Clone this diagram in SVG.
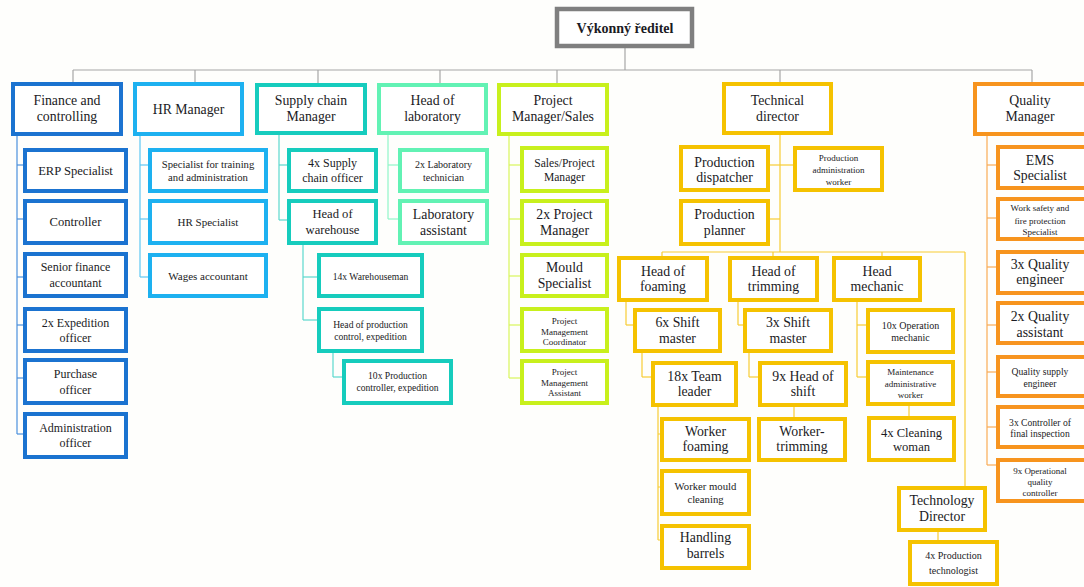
<svg xmlns="http://www.w3.org/2000/svg" width="1084" height="587" viewBox="0 0 1084 587">
<style>
.n rect{fill:#fff;stroke-width:4}
.t{font-family:"Liberation Serif","Times New Roman",serif;fill:#1b1b24;text-anchor:middle}
.top rect{stroke:#7f7f7f;stroke-width:4.5}
.fin rect{stroke:#1b73d0}
.hr rect{stroke:#1db1f0}
.sc rect{stroke:#16ccbd}
.lab rect{stroke:#62f2b4}
.pm rect{stroke:#c8f01c}
.td rect{stroke:#f5c200}
.q rect{stroke:#f7941e}
#connectors line{stroke-width:1.2;fill:none}
.cg{stroke:#a6a6a6;stroke-width:1.6}
.cfin{stroke:#4a8fdc}
.chr{stroke:#5cc6f4}
.csc{stroke:#5ad8cd}
.clab{stroke:#8ff5c8}
.cpm{stroke:#d8f55a}
.ctd{stroke:#f7cc33}
.cq{stroke:#f9ab55}
.f14{font-size:13.8px}
.f12{font-size:12.6px}
.f115{font-size:12px}
.f11{font-size:11.6px}
.f105{font-size:11px}
.f10{font-size:10.7px}
.f95{font-size:10px}
.f9{font-size:9.6px}
.f85{font-size:9px}
</style>
<rect x="0" y="0" width="1084" height="587" fill="#fefefc"/>
<g id="connectors">
<line class="cg" x1="625" y1="48" x2="625" y2="70"/>
<line class="cg" x1="73" y1="70" x2="1032" y2="70"/>
<line class="cg" x1="73" y1="70" x2="73" y2="82"/>
<line class="cg" x1="195" y1="70" x2="195" y2="82"/>
<line class="cg" x1="318" y1="70" x2="318" y2="83"/>
<line class="cg" x1="440" y1="70" x2="440" y2="83"/>
<line class="cg" x1="557" y1="70" x2="557" y2="83"/>
<line class="cg" x1="780" y1="70" x2="780" y2="82"/>
<line class="cg" x1="1032" y1="70" x2="1032" y2="82"/>
<line class="cfin" x1="17" y1="136" x2="17" y2="434"/>
<line class="cfin" x1="17" y1="165" x2="23" y2="165"/>
<line class="cfin" x1="17" y1="219" x2="23" y2="219"/>
<line class="cfin" x1="17" y1="277" x2="23" y2="277"/>
<line class="cfin" x1="17" y1="325" x2="23" y2="325"/>
<line class="cfin" x1="17" y1="378" x2="23" y2="378"/>
<line class="cfin" x1="17" y1="434" x2="23" y2="434"/>
<line class="chr" x1="140" y1="136" x2="140" y2="277"/>
<line class="chr" x1="140" y1="165" x2="148" y2="165"/>
<line class="chr" x1="140" y1="219" x2="148" y2="219"/>
<line class="chr" x1="140" y1="277" x2="148" y2="277"/>
<line class="csc" x1="279" y1="135" x2="279" y2="220"/>
<line class="csc" x1="279" y1="165" x2="287" y2="165"/>
<line class="csc" x1="279" y1="220" x2="287" y2="220"/>
<line class="csc" x1="303" y1="245" x2="303" y2="320"/>
<line class="csc" x1="303" y1="277" x2="317" y2="277"/>
<line class="csc" x1="303" y1="320" x2="317" y2="320"/>
<line class="csc" x1="333" y1="353" x2="333" y2="377"/>
<line class="csc" x1="333" y1="377" x2="342" y2="377"/>
<line class="clab" x1="388" y1="135" x2="388" y2="219"/>
<line class="clab" x1="388" y1="165" x2="398" y2="165"/>
<line class="clab" x1="388" y1="219" x2="398" y2="219"/>
<line class="cpm" x1="509" y1="136" x2="509" y2="378"/>
<line class="cpm" x1="509" y1="165" x2="520" y2="165"/>
<line class="cpm" x1="509" y1="219" x2="520" y2="219"/>
<line class="cpm" x1="509" y1="276" x2="520" y2="276"/>
<line class="cpm" x1="509" y1="325" x2="520" y2="325"/>
<line class="cpm" x1="509" y1="378" x2="520" y2="378"/>
<line class="ctd" x1="780" y1="135" x2="780" y2="252"/>
<line class="ctd" x1="770" y1="165" x2="793" y2="165"/>
<line class="ctd" x1="770" y1="219" x2="780" y2="219"/>
<line class="ctd" x1="662" y1="252" x2="965" y2="252"/>
<line class="ctd" x1="662" y1="252" x2="662" y2="256"/>
<line class="ctd" x1="773" y1="252" x2="773" y2="256"/>
<line class="ctd" x1="882" y1="252" x2="882" y2="256"/>
<line class="ctd" x1="965" y1="252" x2="965" y2="486"/>
<line class="ctd" x1="626" y1="302" x2="626" y2="325"/>
<line class="ctd" x1="626" y1="325" x2="633" y2="325"/>
<line class="ctd" x1="642" y1="353" x2="642" y2="377"/>
<line class="ctd" x1="642" y1="377" x2="651" y2="377"/>
<line class="ctd" x1="658" y1="407" x2="658" y2="540"/>
<line class="ctd" x1="658" y1="434" x2="660" y2="434"/>
<line class="ctd" x1="658" y1="487" x2="660" y2="487"/>
<line class="ctd" x1="658" y1="540" x2="660" y2="540"/>
<line class="ctd" x1="738" y1="302" x2="738" y2="325"/>
<line class="ctd" x1="738" y1="325" x2="743" y2="325"/>
<line class="ctd" x1="749" y1="353" x2="749" y2="377"/>
<line class="ctd" x1="749" y1="377" x2="758" y2="377"/>
<line class="ctd" x1="794" y1="407" x2="794" y2="417"/>
<line class="ctd" x1="857" y1="302" x2="857" y2="377"/>
<line class="ctd" x1="857" y1="325" x2="866" y2="325"/>
<line class="ctd" x1="857" y1="377" x2="866" y2="377"/>
<line class="ctd" x1="909" y1="406" x2="909" y2="416"/>
<line class="ctd" x1="938" y1="532" x2="938" y2="540"/>
<line class="cq" x1="987" y1="136" x2="987" y2="465"/>
<line class="cq" x1="987" y1="165" x2="996" y2="165"/>
<line class="cq" x1="987" y1="218" x2="996" y2="218"/>
<line class="cq" x1="987" y1="267" x2="996" y2="267"/>
<line class="cq" x1="987" y1="325" x2="996" y2="325"/>
<line class="cq" x1="987" y1="372" x2="996" y2="372"/>
<line class="cq" x1="987" y1="427" x2="996" y2="427"/>
<line class="cq" x1="987" y1="465" x2="996" y2="465"/>
</g>

<g id="ceo" class="n top"><rect x="557" y="9" width="135" height="37"/><text class="t" x="625" y="33" font-size="14" font-weight="bold">Výkonný ředitel</text></g>

<g id="finance" class="n fin"><rect x="13" y="84" width="108" height="50"/><text class="t f14"><tspan x="67" y="105">Finance and</tspan><tspan x="67" y="121">controlling</tspan></text></g>
<g id="erp" class="n fin"><rect x="25" y="150" width="101" height="41"/><text class="t f12" x="75.5" y="174.5">ERP Specialist</text></g>
<g id="controller" class="n fin"><rect x="25" y="201" width="101" height="42"/><text class="t f12" x="75.5" y="226">Controller</text></g>
<g id="senior" class="n fin"><rect x="25" y="254" width="101" height="42"/><text class="t f115"><tspan x="75.5" y="271">Senior finance</tspan><tspan x="75.5" y="287">accountant</tspan></text></g>
<g id="expedition" class="n fin"><rect x="25" y="309" width="101" height="42"/><text class="t f115"><tspan x="75.5" y="327">2x Expedition</tspan><tspan x="75.5" y="342">officer</tspan></text></g>
<g id="purchase" class="n fin"><rect x="25" y="360" width="101" height="43"/><text class="t f115"><tspan x="75.5" y="378">Purchase</tspan><tspan x="75.5" y="394">officer</tspan></text></g>
<g id="admin" class="n fin"><rect x="25" y="414" width="101" height="43"/><text class="t f115"><tspan x="75.5" y="432">Administration</tspan><tspan x="75.5" y="447">officer</tspan></text></g>

<g id="hrm" class="n hr"><rect x="135" y="84" width="107" height="50"/><text class="t f14" x="188.5" y="113.5">HR Manager</text></g>
<g id="hrtrain" class="n hr"><rect x="150" y="150" width="116" height="41"/><text class="t f10"><tspan x="208" y="168">Specialist for training</tspan><tspan x="208" y="181">and administration</tspan></text></g>
<g id="hrspec" class="n hr"><rect x="150" y="201" width="116" height="42"/><text class="t f105" x="208" y="226">HR Specialist</text></g>
<g id="wages" class="n hr"><rect x="150" y="255" width="116" height="41"/><text class="t f105" x="208" y="280">Wages accountant</text></g>

<g id="scm" class="n sc"><rect x="257" y="85" width="108" height="48"/><text class="t f14"><tspan x="311" y="105">Supply chain</tspan><tspan x="311" y="121">Manager</tspan></text></g>
<g id="scofficer" class="n sc"><rect x="289" y="150" width="87" height="41"/><text class="t f115"><tspan x="332.5" y="167">4x Supply</tspan><tspan x="332.5" y="182">chain officer</tspan></text></g>
<g id="warehouse" class="n sc"><rect x="289" y="201" width="87" height="42"/><text class="t f12"><tspan x="332.5" y="218">Head of</tspan><tspan x="332.5" y="234">warehouse</tspan></text></g>
<g id="warehouseman" class="n sc"><rect x="319" y="255" width="103" height="41"/><text class="t f9" x="370.5" y="280">14x Warehouseman</text></g>
<g id="prodcontrol" class="n sc"><rect x="319" y="309" width="103" height="42"/><text class="t f9"><tspan x="370.5" y="328">Head of production</tspan><tspan x="370.5" y="339.5">control, expedition</tspan></text></g>
<g id="prodcontroller" class="n sc"><rect x="344" y="361" width="107" height="42"/><text class="t f9"><tspan x="397.5" y="379">10x Production</tspan><tspan x="397.5" y="391">controller, expedition</tspan></text></g>

<g id="lab" class="n lab"><rect x="379" y="85" width="107" height="48"/><text class="t f14"><tspan x="432.5" y="105">Head of</tspan><tspan x="432.5" y="121">laboratory</tspan></text></g>
<g id="labtech" class="n lab"><rect x="400" y="150" width="87" height="41"/><text class="t f95"><tspan x="443.5" y="167.5">2x Laboratory</tspan><tspan x="443.5" y="181">technician</tspan></text></g>
<g id="labassist" class="n lab"><rect x="400" y="201" width="87" height="42"/><text class="t f14"><tspan x="443.5" y="219">Laboratory</tspan><tspan x="443.5" y="235">assistant</tspan></text></g>

<g id="pmsales" class="n pm"><rect x="499" y="85" width="108" height="49"/><text class="t f14"><tspan x="553" y="105">Project</tspan><tspan x="553" y="121">Manager/Sales</tspan></text></g>
<g id="salespm" class="n pm"><rect x="522" y="148" width="85" height="43"/><text class="t f11"><tspan x="564.5" y="167">Sales/Project</tspan><tspan x="564.5" y="181">Manager</tspan></text></g>
<g id="pm2" class="n pm"><rect x="522" y="201" width="85" height="43"/><text class="t f14"><tspan x="564.5" y="219">2x Project</tspan><tspan x="564.5" y="235">Manager</tspan></text></g>
<g id="mould" class="n pm"><rect x="522" y="255" width="85" height="41"/><text class="t f14"><tspan x="564.5" y="272">Mould</tspan><tspan x="564.5" y="288">Specialist</tspan></text></g>
<g id="pmcoord" class="n pm"><rect x="522" y="309" width="85" height="42"/><text class="t f85"><tspan x="564.5" y="324">Project</tspan><tspan x="564.5" y="334.5">Management</tspan><tspan x="564.5" y="345">Coordinator</tspan></text></g>
<g id="pmassist" class="n pm"><rect x="522" y="361" width="85" height="42"/><text class="t f85"><tspan x="564.5" y="375">Project</tspan><tspan x="564.5" y="385.5">Management</tspan><tspan x="564.5" y="396">Assistant</tspan></text></g>

<g id="techdir" class="n td"><rect x="724" y="84" width="107" height="49"/><text class="t f14"><tspan x="777.5" y="105">Technical</tspan><tspan x="777.5" y="121">director</tspan></text></g>
<g id="dispatcher" class="n td"><rect x="681" y="147" width="87" height="43"/><text class="t f14"><tspan x="724.5" y="166.5">Production</tspan><tspan x="724.5" y="182">dispatcher</tspan></text></g>
<g id="planner" class="n td"><rect x="681" y="201" width="87" height="43"/><text class="t f14"><tspan x="724.5" y="219">Production</tspan><tspan x="724.5" y="235">planner</tspan></text></g>
<g id="prodadmin" class="n td"><rect x="795" y="148" width="87" height="42"/><text class="t f85"><tspan x="838.5" y="161">Production</tspan><tspan x="838.5" y="173">administration</tspan><tspan x="838.5" y="184.5">worker</tspan></text></g>
<g id="foaming" class="n td"><rect x="619" y="258" width="88" height="42"/><text class="t f14"><tspan x="663" y="276">Head of</tspan><tspan x="663" y="291">foaming</tspan></text></g>
<g id="trimming" class="n td"><rect x="730" y="258" width="87" height="42"/><text class="t f14"><tspan x="773.5" y="276">Head of</tspan><tspan x="773.5" y="291">trimming</tspan></text></g>
<g id="mechanic" class="n td"><rect x="834" y="258" width="86" height="42"/><text class="t f14"><tspan x="877" y="276">Head</tspan><tspan x="877" y="291">mechanic</tspan></text></g>
<g id="shift6" class="n td"><rect x="635" y="310" width="85" height="41"/><text class="t f14"><tspan x="677.5" y="327">6x Shift</tspan><tspan x="677.5" y="343">master</tspan></text></g>
<g id="shift3" class="n td"><rect x="745" y="310" width="86" height="41"/><text class="t f14"><tspan x="788" y="327">3x Shift</tspan><tspan x="788" y="343">master</tspan></text></g>
<g id="teamleader" class="n td"><rect x="653" y="363" width="83" height="42"/><text class="t f14"><tspan x="694.5" y="381">18x Team</tspan><tspan x="694.5" y="396">leader</tspan></text></g>
<g id="headshift" class="n td"><rect x="760" y="363" width="86" height="42"/><text class="t f14"><tspan x="803" y="381">9x Head of</tspan><tspan x="803" y="396">shift</tspan></text></g>
<g id="opmech" class="n td"><rect x="868" y="310" width="85" height="42"/><text class="t f95"><tspan x="910.5" y="328.5">10x Operation</tspan><tspan x="910.5" y="341">mechanic</tspan></text></g>
<g id="maint" class="n td"><rect x="868" y="362" width="85" height="42"/><text class="t f85"><tspan x="910.5" y="375">Maintenance</tspan><tspan x="910.5" y="386.5">administrative</tspan><tspan x="910.5" y="398">worker</tspan></text></g>
<g id="wfoaming" class="n td"><rect x="662" y="419" width="87" height="41"/><text class="t f14"><tspan x="705.5" y="436">Worker</tspan><tspan x="705.5" y="451">foaming</tspan></text></g>
<g id="wmould" class="n td"><rect x="662" y="471" width="87" height="43"/><text class="t f10"><tspan x="705.5" y="490">Worker mould</tspan><tspan x="705.5" y="503">cleaning</tspan></text></g>
<g id="barrels" class="n td"><rect x="662" y="526" width="87" height="42"/><text class="t f14"><tspan x="705.5" y="542">Handling</tspan><tspan x="705.5" y="558">barrels</tspan></text></g>
<g id="wtrimming" class="n td"><rect x="759" y="419" width="86" height="41"/><text class="t f14"><tspan x="802" y="436">Worker-</tspan><tspan x="802" y="451">trimming</tspan></text></g>
<g id="cleaning" class="n td"><rect x="869" y="418" width="85" height="42"/><text class="t f12"><tspan x="911.5" y="436.5">4x Cleaning</tspan><tspan x="911.5" y="450.5">woman</tspan></text></g>
<g id="technology" class="n td"><rect x="899" y="488" width="86" height="42"/><text class="t f14"><tspan x="942" y="505">Technology</tspan><tspan x="942" y="521">Director</tspan></text></g>
<g id="technologist" class="n td"><rect x="910" y="542" width="87" height="42"/><text class="t f95"><tspan x="953.5" y="559">4x Production</tspan><tspan x="953.5" y="573.5">technologist</tspan></text></g>

<g id="qm" class="n q"><rect x="975" y="84" width="112" height="50"/><text class="t f14"><tspan x="1030" y="105">Quality</tspan><tspan x="1030" y="121">Manager</tspan></text></g>
<g id="ems" class="n q"><rect x="998" y="147" width="90" height="41"/><text class="t f14"><tspan x="1040" y="165">EMS</tspan><tspan x="1040" y="180">Specialist</tspan></text></g>
<g id="worksafety" class="n q"><rect x="998" y="199" width="90" height="40"/><text class="t f85"><tspan x="1040" y="211">Work safety and</tspan><tspan x="1040" y="223.5">fire protection</tspan><tspan x="1040" y="235">Specialist</tspan></text></g>
<g id="qeng" class="n q"><rect x="998" y="252" width="90" height="41"/><text class="t f14"><tspan x="1040" y="269">3x Quality</tspan><tspan x="1040" y="284">engineer</tspan></text></g>
<g id="qassist" class="n q"><rect x="998" y="303" width="90" height="40"/><text class="t f14"><tspan x="1040" y="321">2x Quality</tspan><tspan x="1040" y="337">assistant</tspan></text></g>
<g id="qsupply" class="n q"><rect x="998" y="357" width="90" height="39"/><text class="t f9"><tspan x="1040" y="375">Quality supply</tspan><tspan x="1040" y="386.5">engineer</tspan></text></g>
<g id="qfinal" class="n q"><rect x="998" y="407" width="90" height="40"/><text class="t f9"><tspan x="1040" y="426">3x Controller of</tspan><tspan x="1040" y="437">final inspection</tspan></text></g>
<g id="qop" class="n q"><rect x="998" y="460" width="90" height="41"/><text class="t f85"><tspan x="1040" y="474">9x Operational</tspan><tspan x="1040" y="485">quality</tspan><tspan x="1040" y="496">controller</tspan></text></g>
</svg>
